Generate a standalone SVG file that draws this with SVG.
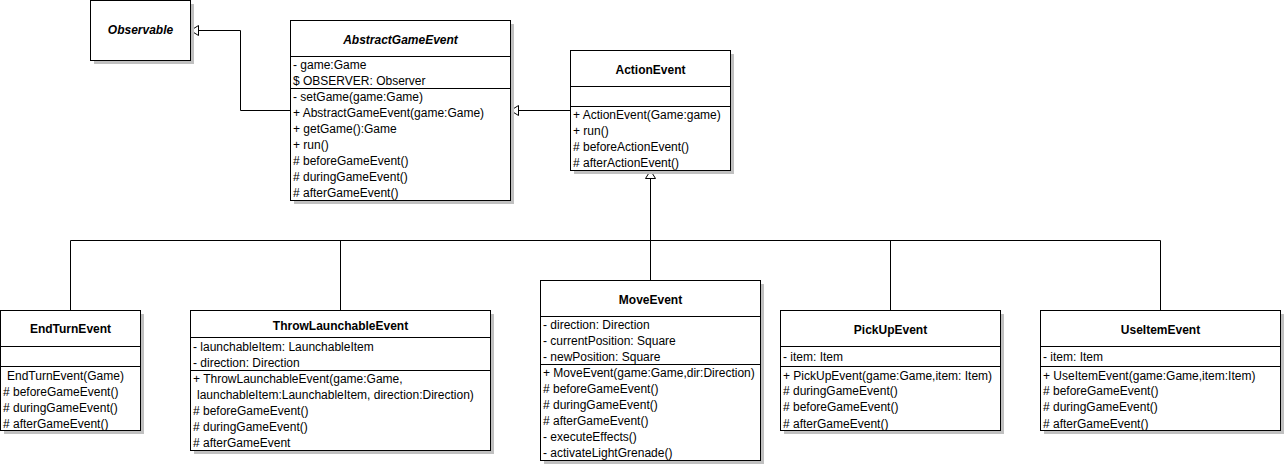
<svg xmlns="http://www.w3.org/2000/svg" width="1285" height="465" viewBox="0 0 1285 465">
<style>
text{font-family:"Liberation Sans",Arial,sans-serif;font-size:12px;fill:#000}
.t{font-weight:bold;text-anchor:middle}
.i{font-style:italic}
.sh{fill:#c0c0c0}
.bx{fill:#fff;stroke:#000;stroke-width:1}
.ln{stroke:#000;stroke-width:1;fill:none}
.ar{fill:#fff;stroke:#000;stroke-width:1}
</style>
<rect width="1285" height="465" fill="#fff"/>
<g id="connectors">
<path class="ln" d="M290.5,110.5 H240.5 V30.5 H198.5"/>
<polygon class="ar" points="190.5,30.5 198.5,25.5 198.5,35.5"/>
<path class="ln" d="M570.5,110.5 H518.5"/>
<polygon class="ar" points="510.5,110.5 518.5,105.5 518.5,115.5"/>
<path class="ln" d="M650.5,178.5 V240.5 M70.5,240.5 H1160.5 M70.5,240.5 V310.5 M340.5,240.5 V310.5 M650.5,240.5 V280.5 M890.5,240.5 V310.5 M1160.5,240.5 V310.5"/>
<polygon class="ar" points="650.5,170.5 645.5,178.5 655.5,178.5"/>
</g>
<g id="Observable">
<rect class="sh" x="94" y="4" width="100" height="60"/>
<rect class="bx" x="90.5" y="0.5" width="100" height="60"/>
<text class="t i" x="140.5" y="34">Observable</text>
</g>
<g id="AbstractGameEvent">
<rect class="sh" x="294" y="24" width="220" height="180"/>
<rect class="bx" x="290.5" y="20.5" width="220" height="180"/>
<path class="ln" d="M290.5,56.5 H510.5 M290.5,88.5 H510.5"/>
<text class="t i" x="400.5" y="43.5">AbstractGameEvent</text>
<text x="293" y="69">- game:Game</text>
<text x="293" y="85">$ OBSERVER: Observer</text>
<text x="293" y="101">- setGame(game:Game)</text>
<text x="293" y="117">+ AbstractGameEvent(game:Game)</text>
<text x="293" y="133">+ getGame():Game</text>
<text x="293" y="149">+ run()</text>
<text x="293" y="165"># beforeGameEvent()</text>
<text x="293" y="181"># duringGameEvent()</text>
<text x="293" y="197"># afterGameEvent()</text>
</g>
<g id="ActionEvent">
<rect class="sh" x="574" y="54" width="160" height="120"/>
<rect class="bx" x="570.5" y="50.5" width="160" height="120"/>
<path class="ln" d="M570.5,86.5 H730.5 M570.5,106.5 H730.5"/>
<text class="t" x="650.5" y="73.5">ActionEvent</text>
<text x="573" y="119">+ ActionEvent(Game:game)</text>
<text x="573" y="135">+ run()</text>
<text x="573" y="151"># beforeActionEvent()</text>
<text x="573" y="167"># afterActionEvent()</text>
</g>
<g id="EndTurnEvent">
<rect class="sh" x="4" y="314" width="140" height="120"/>
<rect class="bx" x="0.5" y="310.5" width="140" height="120"/>
<path class="ln" d="M0.5,346.5 H140.5 M0.5,366.5 H140.5"/>
<text class="t" x="70.5" y="333">EndTurnEvent</text>
<text x="7" y="380">EndTurnEvent(Game)</text>
<text x="3" y="396"># beforeGameEvent()</text>
<text x="3" y="412"># duringGameEvent()</text>
<text x="3" y="428"># afterGameEvent()</text>
</g>
<g id="ThrowLaunchableEvent">
<rect class="sh" x="194" y="314" width="300" height="140"/>
<rect class="bx" x="190.5" y="310.5" width="300" height="140"/>
<path class="ln" d="M190.5,337.5 H490.5 M190.5,370.5 H490.5"/>
<text class="t" x="340.5" y="329.5">ThrowLaunchableEvent</text>
<text x="193" y="351">- launchableItem: LaunchableItem</text>
<text x="193" y="367">- direction: Direction</text>
<text x="193" y="383">+ ThrowLaunchableEvent(game:Game,</text>
<text x="197" y="399">launchableItem:LaunchableItem, direction:Direction)</text>
<text x="193" y="415"># beforeGameEvent()</text>
<text x="193" y="431"># duringGameEvent()</text>
<text x="193" y="447"># afterGameEvent</text>
</g>
<g id="MoveEvent">
<rect class="sh" x="544" y="284" width="220" height="180"/>
<rect class="bx" x="540.5" y="280.5" width="220" height="180"/>
<path class="ln" d="M540.5,316.5 H760.5 M540.5,364.5 H760.5"/>
<text class="t" x="650.5" y="303.5">MoveEvent</text>
<text x="543" y="329">- direction: Direction</text>
<text x="543" y="345">- currentPosition: Square</text>
<text x="543" y="361">- newPosition: Square</text>
<text x="543" y="377">+ MoveEvent(game:Game,dir:Direction)</text>
<text x="543" y="393"># beforeGameEvent()</text>
<text x="543" y="409"># duringGameEvent()</text>
<text x="543" y="425"># afterGameEvent()</text>
<text x="543" y="441">- executeEffects()</text>
<text x="543" y="457">- activateLightGrenade()</text>
</g>
<g id="PickUpEvent">
<rect class="sh" x="784" y="314" width="220" height="120"/>
<rect class="bx" x="780.5" y="310.5" width="220" height="120"/>
<path class="ln" d="M780.5,346.5 H1000.5 M780.5,366.5 H1000.5"/>
<text class="t" x="890.5" y="333.5">PickUpEvent</text>
<text x="783" y="361">- item: Item</text>
<text x="783" y="379.5">+ PickUpEvent(game:Game,item: Item)</text>
<text x="783" y="395"># duringGameEvent()</text>
<text x="783" y="411"># beforeGameEvent()</text>
<text x="783" y="427.5"># afterGameEvent()</text>
</g>
<g id="UseItemEvent">
<rect class="sh" x="1044" y="314" width="240" height="120"/>
<rect class="bx" x="1040.5" y="310.5" width="240" height="120"/>
<path class="ln" d="M1040.5,346.5 H1280.5 M1040.5,366.5 H1280.5"/>
<text class="t" x="1160.5" y="333.5">UseItemEvent</text>
<text x="1043" y="361">- item: Item</text>
<text x="1043" y="379.5">+ UseItemEvent(game:Game,item:Item)</text>
<text x="1043" y="395"># beforeGameEvent()</text>
<text x="1043" y="411"># duringGameEvent()</text>
<text x="1043" y="427.5"># afterGameEvent()</text>
</g>
</svg>
